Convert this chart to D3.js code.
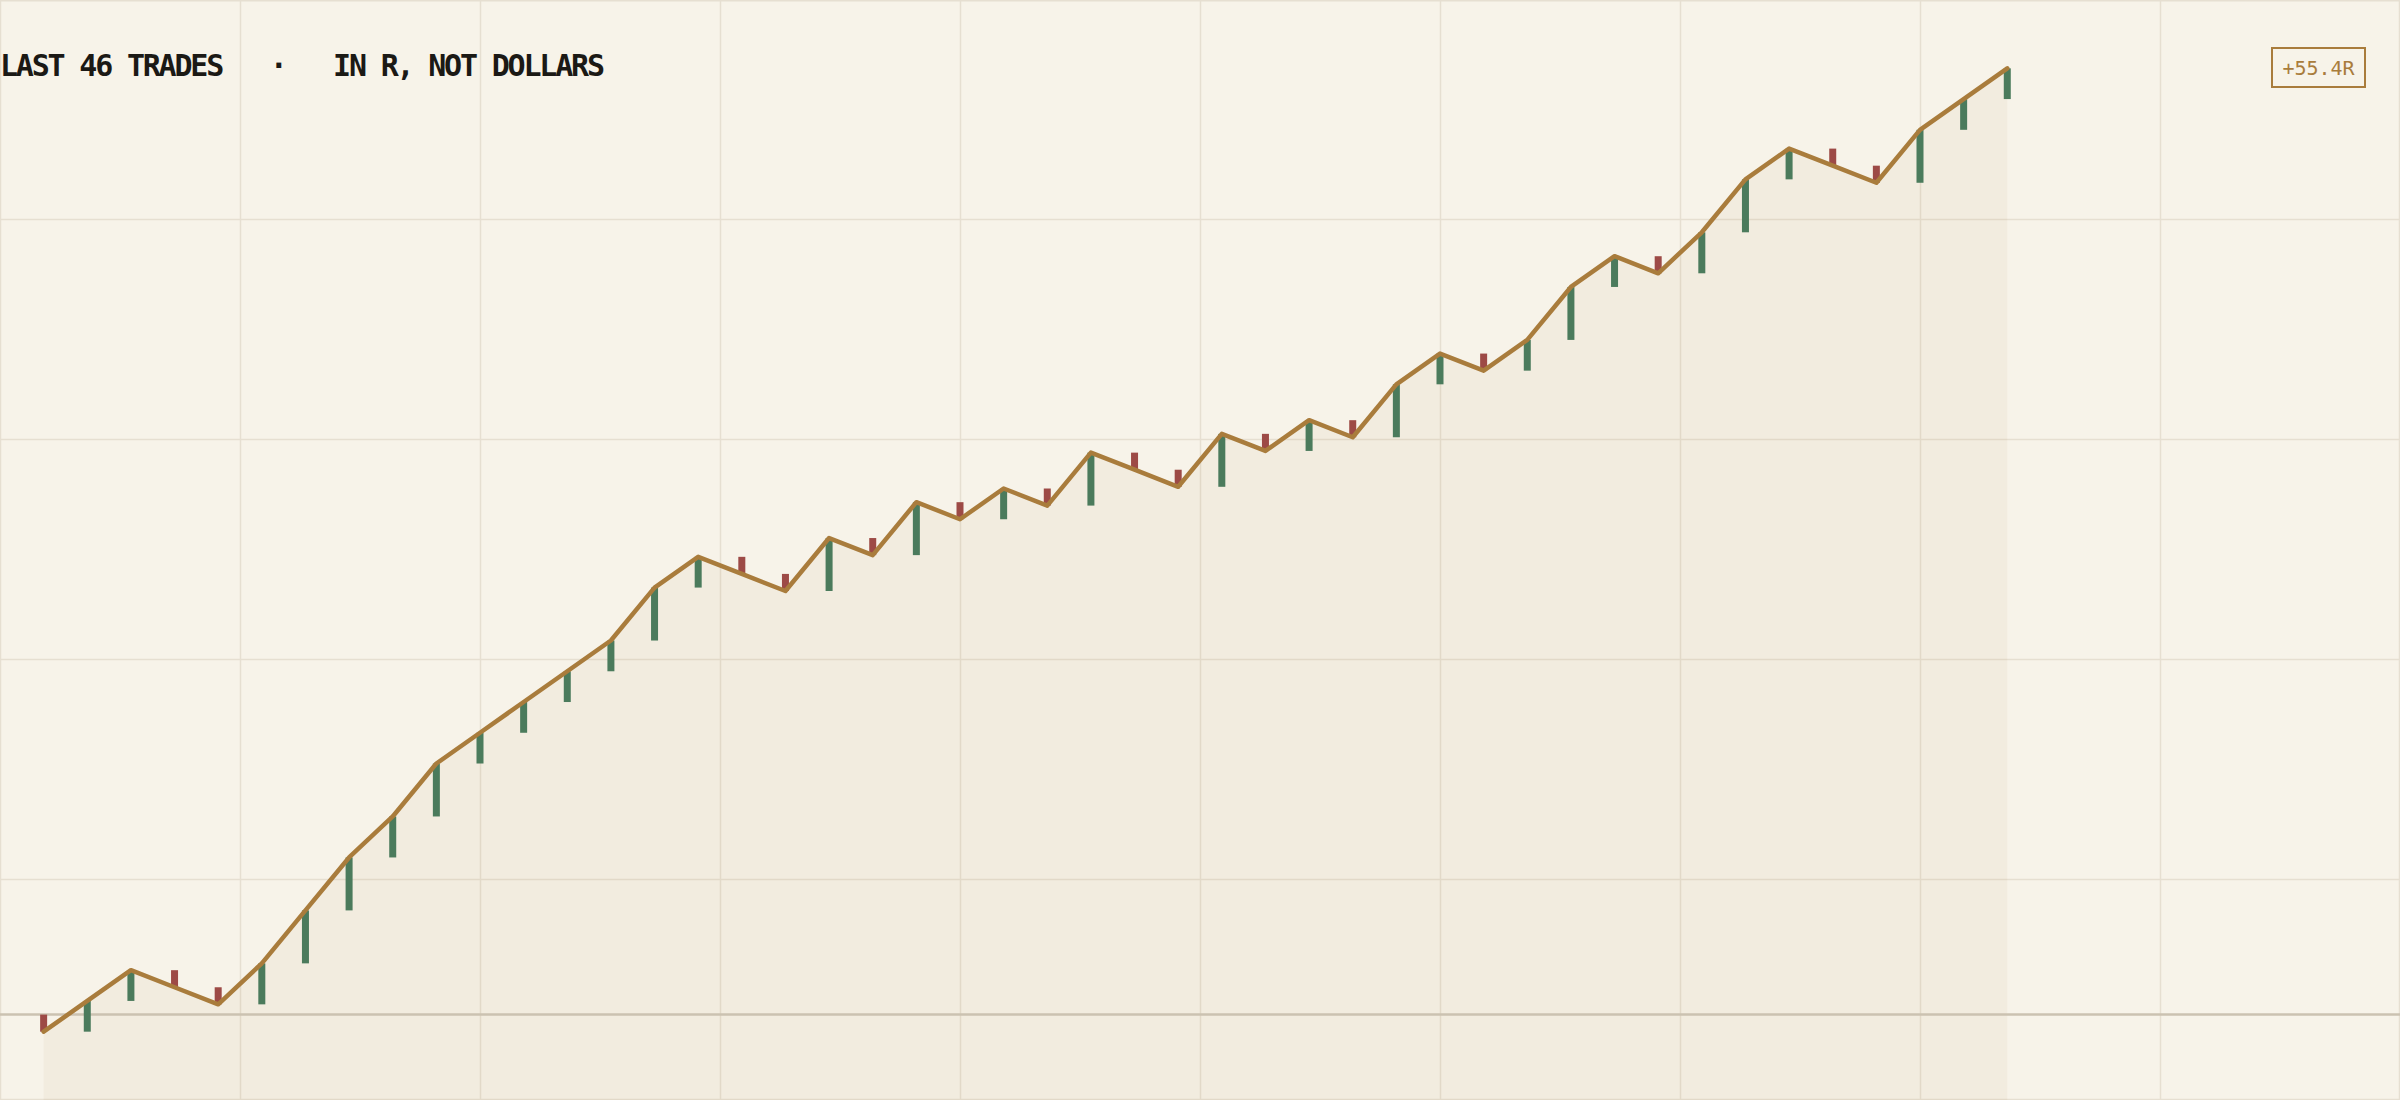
<!DOCTYPE html>
<html>
<head>
<meta charset="utf-8">
<script src="https://cdn.jsdelivr.net/npm/d3@7/dist/d3.min.js"></script>
<style>
  html, body { margin: 0; padding: 0; background: #f7f3e9; }
  svg { display: block; }
</style>
</head>
<body>
<svg id="chart" width="2400" height="1100"></svg>
<script>
// ---- data ----
const trades = [-1, 1.8, 1.8, -1, -1, 2.4, 3.1, 3.1, 2.4, 3.1,
                1.8, 1.8, 1.8, 1.8, 3.1, 1.8, -1, -1, 3.1, -1,
                3.1, -1, 1.8, -1, 3.1, -1, -1, 3.1, -1, 1.8,
                -1, 3.1, 1.8, -1, 1.8, 3.1, 1.8, -1, 2.4, 3.1,
                1.8, -1, -1, 3.1, 1.8, 1.8];
const titleLeft = "LAST " + trades.length + " TRADES";
const titleRight = "IN R, NOT DOLLARS";
const separator = "   ·   ";
const xSlots = 55;     // x domain capacity (trade slots)
const yPad = 4;        // R padding above/below

// ---- derived ----
const cum = [];
let run = 0;
trades.forEach((r, i) => { const prev = run; run = +(run + r).toFixed(2); cum.push({i: i + 1, r, prev, v: run}); });
const total = run;

const W = 2400, H = 1100;
const svg = d3.select("#chart");

const x = d3.scaleLinear().domain([0, xSlots]).range([0, W]);
const yMin = Math.min(0, d3.min(cum, d => d.v)) - yPad;
const yMax = d3.max(cum, d => d.v) + yPad;
const y = d3.scaleLinear().domain([yMin, yMax]).range([H, 0]);

// background
svg.append("rect").attr("width", W).attr("height", H).attr("fill", "#f7f3e9");

// grid
const grid = svg.append("g").attr("stroke", "#e6dfd1").attr("stroke-width", 1.5);
d3.range(0, W + 1, 240).forEach(gx => {
  grid.append("line").attr("x1", Math.min(gx, W - 1) + 0.5).attr("x2", Math.min(gx, W - 1) + 0.5)
    .attr("y1", 0).attr("y2", H);
});
d3.range(0, H + 1, 220).forEach(gy => {
  const yy = gy === 0 ? 0.75 : gy - 0.5;
  grid.append("line").attr("y1", yy).attr("y2", yy).attr("x1", 0).attr("x2", W);
});

// area
const area = d3.area().x(d => x(d.i)).y0(H).y1(d => y(d.v));
svg.append("path").datum(cum).attr("d", area).attr("fill", "#a97c3c").attr("fill-opacity", 0.055);

// zero line
svg.append("line").attr("x1", 0).attr("x2", W).attr("y1", y(0)).attr("y2", y(0))
  .attr("stroke", "#cbc2b1").attr("stroke-width", 2.5);

// bars
const bw = 7;
svg.append("g").selectAll("rect").data(cum).join("rect")
  .attr("x", d => x(d.i) - bw / 2)
  .attr("width", bw)
  .attr("y", d => Math.min(y(d.prev), y(d.v)))
  .attr("height", d => Math.abs(y(d.prev) - y(d.v)))
  .attr("fill", d => d.r >= 0 ? "#4b7b5c" : "#9d4a46");

// line
const line = d3.line().x(d => x(d.i)).y(d => y(d.v));
svg.append("path").datum(cum).attr("d", line)
  .attr("fill", "none").attr("stroke", "#a97c3c").attr("stroke-width", 4.5)
  .attr("stroke-linejoin", "round").attr("stroke-linecap", "round");

// title
svg.append("text")
  .attr("x", 0).attr("y", 76)
  .attr("xml:space", "preserve")
  .style("white-space", "pre")
  .attr("font-family", "'DejaVu Sans Mono', monospace")
  .attr("font-weight", "bold")
  .attr("font-size", 30)
  .attr("letter-spacing", -2.2)
  .attr("fill", "#1b1915")
  .text(titleLeft + separator + titleRight);

// total badge
const bx = 2272, by = 48, bwid = 93, bh = 39;
svg.append("rect").attr("x", bx).attr("y", by).attr("width", bwid).attr("height", bh)
  .attr("fill", "none").attr("stroke", "#a97c3c").attr("stroke-width", 2);
svg.append("text")
  .attr("x", bx + bwid / 2).attr("y", by + bh / 2).attr("dy", "0.36em")
  .attr("text-anchor", "middle")
  .attr("font-family", "'DejaVu Sans Mono', monospace")
  .attr("font-size", 20)
  .attr("fill", "#a97c3c")
  .text((total >= 0 ? "+" : "") + total.toFixed(1) + "R");
</script>
</body>
</html>
